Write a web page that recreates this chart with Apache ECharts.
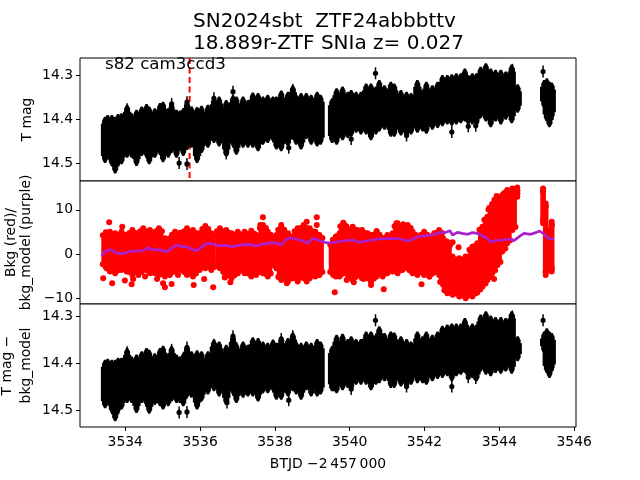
<!DOCTYPE html>
<html>
<head>
<meta charset="utf-8">
<style>html,body{margin:0;padding:0;background:#fff}#c{width:640px;height:480px}</style>
<script src="https://cdn.jsdelivr.net/npm/echarts@6/dist/echarts.min.js"></script>
</head>
<body>
<div id="c"></div>
<script>
// Column positions of the dense black light-curve band (BTJD)
var magT = [3533.46,3533.53,3533.64,3533.73,3533.81,3533.90,3534.05,3534.17,3534.30,3534.44,3534.57,3534.64,3534.79,3534.93,3535.01,3535.15,3535.24,3535.37,3535.46,3535.55,3535.65,3535.77,3535.92,3536.04,3536.21,3536.37,3536.51,3536.70,3536.88,3536.97,3537.15,3537.28,3537.41,3537.55,3537.68,3537.81,3537.95,3538.04,3538.17,3538.35,3538.48,3538.57,3538.70,3538.84,3538.97,3539.13,3539.22,
 3539.53,3539.58,3539.65,3539.81,3539.95,3540.04,3540.17,3540.30,3540.44,3540.57,3540.70,3540.79,3540.93,3541.10,3541.19,3541.37,3541.52,3541.64,3541.81,3541.95,3542.05,3542.21,3542.35,3542.48,3542.61,3542.73,3542.85,3542.97,3543.08,3543.17,3543.28,3543.39,3543.50,3543.64,3543.77,3543.90,3544.04,3544.17,3544.33,3544.49,
 3545.20,3545.27,3545.34,3545.40];
var tmagTop = [14.394,14.390,14.390,14.394,14.388,14.386,14.367,14.386,14.378,14.371,14.365,14.371,14.375,14.363,14.360,14.375,14.362,14.378,14.380,14.375,14.358,14.371,14.372,14.369,14.367,14.350,14.348,14.356,14.345,14.348,14.348,14.356,14.339,14.340,14.348,14.344,14.348,14.348,14.334,14.337,14.322,14.344,14.340,14.340,14.344,14.337,14.344,
 14.352,14.356,14.329,14.325,14.337,14.333,14.337,14.337,14.318,14.318,14.325,14.310,14.322,14.314,14.318,14.333,14.337,14.340,14.310,14.333,14.314,14.322,14.314,14.299,14.299,14.297,14.295,14.295,14.284,14.299,14.295,14.295,14.280,14.272,14.284,14.287,14.287,14.291,14.275,14.320,
 14.310,14.306,14.314,14.316];
var tmagBot = [14.500,14.492,14.507,14.524,14.507,14.503,14.488,14.488,14.507,14.484,14.488,14.503,14.488,14.481,14.498,14.488,14.477,14.488,14.470,14.484,14.470,14.465,14.500,14.477,14.465,14.454,14.462,14.485,14.462,14.481,14.465,14.465,14.465,14.473,14.458,14.454,14.450,14.469,14.473,14.462,14.447,14.458,14.469,14.445,14.458,14.462,14.458,
 14.454,14.450,14.458,14.448,14.443,14.440,14.431,14.435,14.435,14.448,14.435,14.428,14.424,14.440,14.440,14.437,14.440,14.435,14.431,14.428,14.433,14.424,14.420,14.416,14.412,14.415,14.412,14.409,14.405,14.412,14.412,14.415,14.397,14.405,14.418,14.405,14.412,14.401,14.409,14.385,
 14.375,14.405,14.418,14.400];
var tmagOutT = [3535.44,3535.65,3534.05,3535.24,3535.65,3536.37,3536.88,3538.37,3536.70,3538.48,3540.69,3545.17,3542.73,3540.04,3543.17,3543.37,3541.52,3544.35];
var tmagOutV = [14.500,14.502,14.377,14.365,14.361,14.352,14.337,14.465,14.478,14.333,14.295,14.291,14.429,14.445,14.416,14.415,14.437,14.287];

var corrTop = [14.393,14.391,14.393,14.393,14.389,14.389,14.368,14.386,14.382,14.375,14.368,14.372,14.379,14.368,14.363,14.382,14.364,14.382,14.386,14.379,14.361,14.375,14.373,14.375,14.375,14.350,14.354,14.361,14.340,14.357,14.354,14.361,14.345,14.347,14.354,14.357,14.350,14.357,14.343,14.347,14.335,14.354,14.357,14.354,14.357,14.349,14.354,
 14.364,14.361,14.340,14.338,14.349,14.343,14.349,14.349,14.333,14.333,14.340,14.322,14.336,14.333,14.335,14.343,14.349,14.354,14.333,14.343,14.333,14.340,14.333,14.321,14.318,14.316,14.316,14.316,14.304,14.322,14.316,14.318,14.297,14.290,14.299,14.302,14.302,14.304,14.290,14.343,
 14.333,14.326,14.333,14.336];
var corrBot = [14.496,14.485,14.506,14.524,14.506,14.499,14.485,14.485,14.506,14.485,14.492,14.508,14.489,14.492,14.499,14.492,14.482,14.485,14.485,14.492,14.474,14.474,14.499,14.482,14.467,14.460,14.471,14.489,14.467,14.485,14.474,14.471,14.471,14.482,14.464,14.464,14.460,14.478,14.478,14.471,14.460,14.467,14.478,14.458,14.471,14.471,14.467,
 14.460,14.460,14.464,14.458,14.453,14.458,14.446,14.446,14.446,14.458,14.446,14.443,14.439,14.453,14.453,14.450,14.453,14.446,14.443,14.443,14.446,14.439,14.434,14.432,14.428,14.439,14.428,14.425,14.421,14.432,14.432,14.439,14.418,14.425,14.428,14.421,14.423,14.418,14.423,14.396,
 14.379,14.421,14.432,14.418];
var corrOutT = [3535.44,3535.65,3536.88,3536.37,3535.24,3535.65,3534.05,3538.37,3536.72,3538.48,3538.17,3540.69,3545.17,3542.73,3540.04,3543.17,3543.37,3541.52,3544.35];
var corrOutV = [14.505,14.504,14.343,14.361,14.372,14.367,14.377,14.479,14.484,14.343,14.349,14.309,14.309,14.450,14.455,14.430,14.432,14.450,14.301];

// Red background band columns
var bkgT = [3533.48,3533.59,3533.73,3533.90,3534.04,3534.19,3534.35,3534.48,3534.66,3534.79,3534.90,3535.06,3535.19,3535.33,3535.46,3535.65,3535.81,3535.99,3536.14,3536.30,3536.53,3536.70,3536.84,3537.01,3537.19,3537.37,3537.50,3537.68,3537.81,3538.04,3538.17,3538.35,3538.48,3538.61,3538.77,3538.93,3539.08,3539.19,
 3539.56,3539.63,3539.73,3539.83,3539.95,3540.08,3540.21,3540.33,3540.48,3540.57,3540.72,3540.88,3541.01,3541.15,3541.28,3541.41,3541.55,3541.68,3541.81,3541.99,3542.13,3542.26,3542.39,3542.50,3542.61,3542.75,3542.93,3543.10,3543.28,3543.41,3543.55,3543.68,3543.81,3543.95,3544.08,3544.21,3544.35,3544.48,
 3545.17,3545.24,3545.33,3545.40];
var bkgTop = [4.94,5.09,4.72,5.09,4.34,5.46,4.34,5.84,5.46,4.34,5.84,3.59,3.59,5.09,4.87,5.84,5.46,4.72,6.36,4.72,5.84,5.46,4.72,5.09,5.09,5.31,4.34,6.59,5.09,4.34,6.21,4.72,3.97,5.84,6.59,5.84,5.09,4.34,
 2.84,3.97,4.72,6.96,4.34,6.21,5.46,5.46,4.72,4.34,5.09,3.59,4.34,4.72,6.96,5.46,6.59,5.09,3.59,5.09,3.97,4.72,5.46,3.59,2.84,-0.53,-0.90,-0.53,1.72,2.47,6.21,8.46,11.08,12.95,13.33,14.45,14.83,15.05,
 14.83,11.46,5.46,7.34];
var bkgBot = [-2.93,-3.90,-4.27,-3.52,-3.90,-4.65,-4.65,-3.52,-4.27,-4.27,-4.65,-5.02,-4.65,-3.90,-3.52,-4.65,-5.02,-3.52,-3.15,-3.52,-3.15,-4.65,-5.40,-4.27,-4.27,-5.02,-4.65,-4.27,-5.02,-3.15,-5.77,-6.15,-5.40,-5.77,-5.40,-5.40,-5.02,-4.65,
 -4.65,-5.02,-5.02,-4.27,-4.65,-5.77,-4.65,-5.40,-5.02,-6.15,-5.02,-5.02,-4.27,-3.90,-4.27,-3.52,-3.15,-4.27,-4.65,-4.65,-5.02,-3.52,-4.65,-6.90,-8.77,-9.14,-9.52,-9.89,-9.52,-8.62,-7.27,-5.77,-4.27,-2.40,0.60,2.47,5.46,12.95,
 6.96,-4.65,-3.52,-3.90];
var bkgOutT = [3533.57,3533.92,3537.68,3539.12,3538.85,3537.61,3538.17,3539.12,3533.41,3533.65,3533.99,3534.17,3534.21,3534.53,3534.85,3535.06,3535.01,3535.24,3535.41,3535.83,3536.11,3536.35,3536.81,3536.66,3538.32,3538.61,3538.85,3539.60,3539.83,3539.92,3540.11,3540.37,3540.57,3540.91,3542.13,3541.92,3541.25,3541.43,3540.72,3543.86,3543.92,3544.36,3542.75,3542.91,3543.71,3543.81,3543.93];
var bkgOutV = [7.19,6.21,8.31,8.31,7.34,6.59,6.59,6.59,-5.40,-6.52,-5.92,-6.75,-5.55,-5.02,-5.55,-7.42,-6.52,-6.67,-4.65,-6.90,-5.55,-7.42,-6.30,-5.25,-6.52,-6.15,-6.15,-8.54,7.11,-5.77,-6.30,-5.55,-6.90,-7.87,-5.02,-6.75,6.96,6.74,5.24,-5.55,-2.40,7.19,2.69,1.57,10.1,11.3,13.1];

// Purple background model
var modelT = [3533.37,3533.46,3533.55,3533.64,3533.73,3533.86,3533.99,3534.13,3534.26,3534.39,3534.53,3534.61,3534.70,3534.84,3534.97,3535.10,3535.19,3535.28,3535.39,3535.50,3535.64,3535.77,3535.90,3535.99,3536.13,3536.26,3536.39,3536.48,3536.61,3536.75,3536.84,3536.97,3537.15,3537.33,3537.50,3537.64,3537.81,3537.95,3538.08,3538.17,3538.30,3538.44,3538.57,3538.70,3538.88,3539.01,3539.15,3539.33,
 3539.46,3539.64,3539.81,3539.95,3540.08,3540.26,3540.44,3540.61,3540.79,3540.97,3541.15,3541.33,3541.46,3541.59,3541.73,3541.86,3542.04,3542.21,3542.39,3542.57,3542.68,3542.75,3542.88,3543.01,3543.15,3543.28,3543.41,3543.55,3543.68,3543.77,3543.90,3544.08,3544.26,3544.39,3544.53,3544.66,3544.84,3544.97,3545.08,3545.19,3545.33,3545.46];
var modelV = [-0.38,0.60,0.97,0.97,0.37,0.15,0.22,0.67,0.74,0.74,0.97,1.49,1.12,1.04,0.89,0.60,0.97,1.72,2.09,1.72,1.72,1.12,0.82,1.34,2.24,2.47,2.24,1.87,2.02,1.94,1.64,1.94,2.17,2.24,1.87,2.24,2.47,2.62,2.39,2.09,3.37,3.67,3.37,3.14,2.47,3.59,3.22,2.69,
 2.54,2.77,2.99,3.07,3.22,2.69,2.99,3.22,3.44,3.52,3.59,3.44,3.22,2.99,3.59,4.04,4.19,4.34,4.87,4.94,5.31,4.34,4.94,4.72,4.49,4.87,4.72,4.12,3.59,2.69,3.07,3.22,3.44,3.07,3.97,4.72,4.49,4.87,5.24,4.57,3.44,3.52];

var eventT = [3535.72];
var xTicks = [3534,3536,3538,3540,3542,3544,3546];
var magTicks = [14.3,14.4,14.5];
var bkgTicks = [-10,0,10];

function zip3(a,b,c){return a.map(function(v,i){return [v,b[i],c[i]];});}
function zip2(a,b){return a.map(function(v,i){return [v,b[i]];});}

// Band column with bumpy ends (black error-bar mass)
function blackCol(params, api){
  var top = api.coord([api.value(0), api.value(1)]);
  var bot = api.coord([api.value(0), api.value(2)]);
  var w = 3, s = 4, core = 4.2, x = top[0], f = {fill:'#000'};
  return {type:'group', children:[
    {type:'rect', shape:{x:x-core, y:top[1]+s+3, width:2*core, height:Math.max(0,bot[1]-top[1]-2*s-6)}, style:f},
    {type:'polygon', shape:{points:[[x-w,top[1]+s],[x-1,top[1]],[x+1,top[1]],[x+w,top[1]+s],[x+w,bot[1]-s],[x+1,bot[1]],[x-1,bot[1]],[x-w,bot[1]-s]]}, style:f}
  ]};
}
function blackOut(params, api){
  var c = api.coord([api.value(0), api.value(1)]);
  return {type:'group', children:[
    {type:'rect', shape:{x:c[0]-0.75,y:c[1]-6,width:1.5,height:12}, style:{fill:'#000'}},
    {type:'circle', shape:{cx:c[0],cy:c[1],r:2.6}, style:{fill:'#000'}}
  ]};
}
function redCol(params, api){
  var t = api.value(0);
  var top = api.coord([t, api.value(1)]);
  var bot = api.coord([t, api.value(2)]);
  var narrow = t > 3544.4;           // the last strips of the band are only one marker wide
  var w = narrow ? 2.8 : 4.5, off = narrow ? 0 : 3, r = 3, x = top[0], f = {fill:'#f00'};
  function dot(cx,cy){return {type:'circle', shape:{cx:cx,cy:cy,r:r}, style:f};}
  return {type:'group', children:[
    dot(x,top[1]), dot(x,bot[1]), dot(x-off,top[1]+3), dot(x+off,top[1]+3), dot(x-off,bot[1]-3), dot(x+off,bot[1]-3),
    {type:'rect', shape:{x:x-w,y:top[1]+3,width:2*w,height:Math.max(0,bot[1]-top[1]-6)}, style:f}
  ]};
}

var FONT = '"DejaVu Sans", sans-serif';
var grids = [
  {left:80, width:496, top:58, height:123},
  {left:80, width:496, top:181, height:123},
  {left:80, width:496, top:304, height:123}
].map(function(g){g.show=true;g.borderColor='#000';g.borderWidth=1;g.backgroundColor='#fff';g.containLabel=false;g.outerBoundsMode='none';return g;});

function xAxis(i, show){
  return {type:'value', gridIndex:i, min:3532.79, max:3546.05, position:'bottom',
    splitLine:{show:false},
    axisLine:{show:false},
    axisTick:{show:show, length:4, lineStyle:{color:'#000',width:1}, customValues:xTicks},
    axisLabel:{show:show, color:'#000', fontFamily:FONT, fontSize:13.9, margin:8, customValues:xTicks, formatter:function(v){return String(v);}},
    name: show ? 'BTJD \u22122\u2009457\u2009000' : '', nameLocation:'middle', nameGap:30, nameMoveOverlap:false,
    nameTextStyle:{color:'#000', fontFamily:FONT, fontSize:13.9}};
}
function yAxis(i, min, max, inv, ticks, name, gap, lh, fmt){
  return {type:'value', gridIndex:i, min:min, max:max, inverse:inv,
    splitLine:{show:false}, axisLine:{show:false},
    axisTick:{show:true, length:4, lineStyle:{color:'#000',width:1}, customValues:ticks},
    axisLabel:{color:'#000', fontFamily:FONT, fontSize:13.9, margin:7, customValues:ticks, formatter:fmt},
    name:name, nameLocation:'middle', nameGap:gap, nameRotate:90, nameMoveOverlap:false,
    nameTextStyle:{color:'#000', fontFamily:FONT, fontSize:13.9, lineHeight:lh, align:'center'}};
}
var fmtMag = function(v){return v.toFixed(1);};
var fmtBkg = function(v){return String(v).replace('-','\u2212');};

var chart = echarts.init(document.getElementById('c'), null, {renderer:'canvas', width:640, height:480});
chart.setOption({
  animation:false,
  backgroundColor:'#fff',
  grid:grids,
  xAxis:[xAxis(0,false), xAxis(1,false), xAxis(2,true)],
  yAxis:[
    yAxis(0,14.26,14.541,true,magTicks,'T mag',45,16,fmtMag),
    yAxis(1,-11.2,16.5,false,bkgTicks,'Bkg (red)/\nbkg_model (purple)',46.5,15,fmtBkg),
    yAxis(2,14.2745,14.536,true,magTicks,'T mag \u2212\nbkg_model',44.6,18.7,fmtMag)
  ],
  title:{text:'SN2024sbt  ZTF24abbbttv\n18.889r-ZTF SNIa z= 0.027', left:188, top:6, textAlign:'left',
    textStyle:{color:'#000', fontFamily:FONT, fontSize:20, fontWeight:'normal', lineHeight:22}},
  graphic:[{type:'text', left:105, top:56, z:50, style:{text:'s82 cam3ccd3', fill:'#000', font:'16.67px "DejaVu Sans"'}}],
  series:[
    {type:'line', xAxisIndex:0, yAxisIndex:0, z:1, showSymbol:false, silent:true,
      data:[[eventT[0],14.26],[eventT[0],14.541]], lineStyle:{color:'#f00',width:2,type:[6,3.5]}},
    {type:'custom', xAxisIndex:0, yAxisIndex:0, z:2, silent:true, renderItem:blackCol, data:zip3(magT,tmagTop,tmagBot), clip:true},
    {type:'custom', xAxisIndex:0, yAxisIndex:0, z:3, silent:true, renderItem:blackOut, data:zip2(tmagOutT,tmagOutV), clip:true},
    {type:'custom', xAxisIndex:1, yAxisIndex:1, z:2, silent:true, renderItem:redCol, data:zip3(bkgT,bkgTop,bkgBot), clip:true},
    {type:'scatter', xAxisIndex:1, yAxisIndex:1, z:3, silent:true, symbolSize:6, itemStyle:{color:'#f00',opacity:1}, data:zip2(bkgOutT,bkgOutV)},
    {type:'line', xAxisIndex:1, yAxisIndex:1, z:4, silent:true, showSymbol:false, data:zip2(modelT,modelV), lineStyle:{color:'#ac20cc',width:2.7}},
    {type:'custom', xAxisIndex:2, yAxisIndex:2, z:2, silent:true, renderItem:blackCol, data:zip3(magT,corrTop,corrBot), clip:true},
    {type:'custom', xAxisIndex:2, yAxisIndex:2, z:3, silent:true, renderItem:blackOut, data:zip2(corrOutT,corrOutV), clip:true}
  ]
});
</script>
</body>
</html>
